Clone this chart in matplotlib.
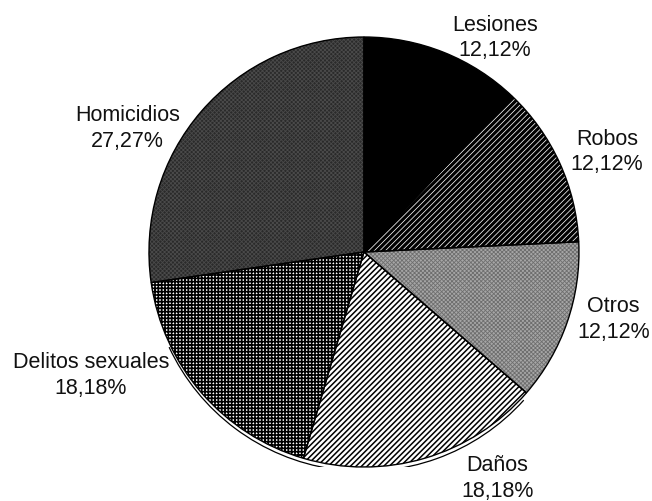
import matplotlib as mpl
mpl.use('Agg')
import matplotlib.pyplot as plt
from matplotlib.patches import Arc

# Data
categories   = ["Lesiones", "Robos", "Otros", "Daños", "Delitos sexuales", "Homicidios"]
shares       = [12.12, 12.12, 12.12, 18.18, 18.18, 27.27]
share_labels = ["12,12%", "12,12%", "12,12%", "18,18%", "18,18%", "27,27%"]

# fill per slice: face colour, hatch, hatch colour, hatch width
styles = [
    ("black",   "",          "black",   1.0),
    ("white",   "//////",    "black",   2.3),
    ("#a6a6a6", "xxxxxxxx",  "#6e6e6e", 0.6),
    ("white",   "//////",    "black",   1.1),
    ("white",   "+++++",     "black",   1.2),
    ("#2a2a2a", "xxxxxxxx",  "#4a4a4a", 0.6),
]
# label centres in pie units (radius = 1)
label_pos = [(0.61, 1.00), (1.13, 0.47), (1.16, -0.31),
             (0.62, -1.05), (-1.27, -0.57), (-1.10, 0.58)]

plt.rcParams['hatch.linewidth'] = 1.5

fig = plt.figure(figsize=(6.52, 5.02), dpi=100)
ax = fig.add_axes([0.2285, 0.0677, 0.6595, 0.8566])

wedges, _ = ax.pie(shares, startangle=90, counterclock=False, radius=1)
for w, (fc, h, hc, hlw) in zip(wedges, styles):
    w.set_facecolor(fc)
    w.set_edgecolor(hc)
    w.set_linewidth(0)
    w.set_hatch(h)
    if hasattr(w, 'set_hatch_linewidth'):
        w.set_hatch_linewidth(hlw)

# outlines on top
ax.pie(shares, startangle=90, counterclock=False, radius=1,
       wedgeprops=dict(fill=False, edgecolor='black', linewidth=1.0))

# thin shadow rim under the lower edge
ax.add_patch(Arc((0, -0.02), 2.0, 2.0, theta1=205, theta2=318,
                 color='black', lw=0.9))

for cat, pct, (x, y) in zip(categories, share_labels, label_pos):
    ax.text(x, y, f"{cat}\n{pct}", ha='center', va='center',
            fontsize=15.5, family='Liberation Sans', linespacing=1.3,
            color='#111111')

ax.set_xlim(-1, 1)
ax.set_ylim(-1, 1)
ax.set_aspect('equal')
ax.axis('off')

fig.savefig('out.png', dpi=100)
